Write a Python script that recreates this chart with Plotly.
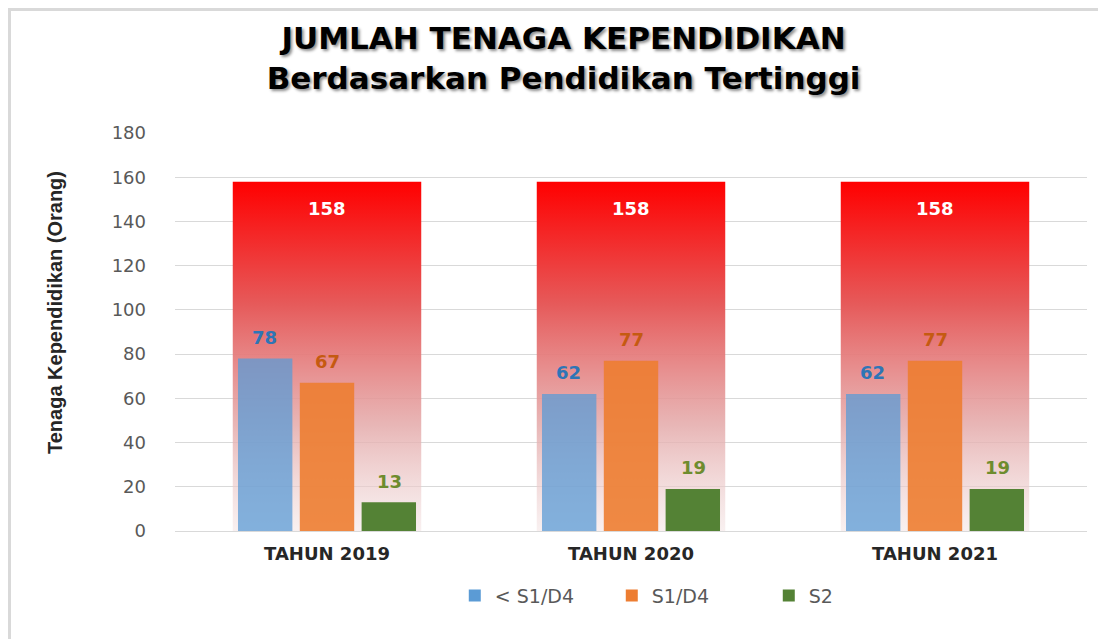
import plotly.graph_objects as go

# data
tahun = ["TAHUN 2019", "TAHUN 2020", "TAHUN 2021"]
total = [158, 158, 158]
kurang_s1 = [78, 62, 62]
s1_d4 = [67, 77, 77]
s2 = [13, 19, 19]

pos = list(range(len(tahun)))
half = 0.31  # half width of the background total bar

fig = go.Figure()

# background total bars with red vertical gradient (base axes, drawn first)
for i, t in zip(pos, total):
    fig.add_trace(go.Scatter(
        x=[i - half, i + half, i + half, i - half, i - half],
        y=[0, 0, t, t, 0],
        mode="lines", line=dict(width=0),
        fill="toself",
        fillgradient=dict(
            type="vertical", start=0, stop=t,
            colorscale=[[0, "rgba(242,225,225,0.5)"],
                        [0.3, "rgba(228,170,170,0.85)"],
                        [0.65, "rgba(230,90,90,1)"],
                        [1, "rgba(255,0,0,1)"]]),
        hoverinfo="skip", showlegend=False))

# grouped bars on an overlaying axis pair so they sit on top of the gradient
series = [
    ("< S1/D4", kurang_s1, "#5b9bd5", 0.75, "#2e75b6"),
    ("S1/D4", s1_d4, "#ed7d31", 0.9, "#c55a11"),
    ("S2", s2, "#548235", 1.0, "#6e8c2e"),
]
for name, vals, col, op, tcol in series:
    fig.add_trace(go.Bar(
        x=pos, y=vals, name=name, xaxis="x2", yaxis="y2",
        marker=dict(color=col, opacity=op, line=dict(width=0))))

annotations = []
for i, t in zip(pos, total):
    annotations.append(dict(x=i, y=t, text=str(t), showarrow=False,
                            yshift=-27, xref="x", yref="y",
                            font=dict(family="DejaVu Sans", size=18, color="white", weight="bold")))
offsets = [-0.204, 0.0, 0.204]
for off, (name, vals, col, op, tcol) in zip(offsets, series):
    for i, v in zip(pos, vals):
        annotations.append(dict(x=i + off, y=v, text=str(v), showarrow=False,
                                yshift=21, xref="x", yref="y",
                                font=dict(family="DejaVu Sans", size=18, color=tcol, weight="bold")))

W, H = 1098, 631
L, R, T, B = 167, 19, 125, 108
pw, ph = W - L - R, H - T - B

# y axis title as a rotated annotation
annotations.append(dict(text="Tenaga Kependidikan (Orang)", textangle=-90, showarrow=False,
                        xref="paper", yref="paper", x=(47 - L) / pw, y=1 - (305 - T) / ph,
                        xanchor="center", yanchor="middle",
                        font=dict(family="Liberation Sans Narrow, Arial", size=20,
                                  color="#262626", weight="bold")))

fig.update_layout(
    width=W, height=H,
    paper_bgcolor="white", plot_bgcolor="white",
    margin=dict(l=L, r=R, t=T, b=B, autoexpand=False),
    barmode="group", bargap=0.39, bargroupgap=0.12,
    title=dict(
        text="JUMLAH TENAGA KEPENDIDIKAN<br>Berdasarkan Pendidikan Tertinggi",
        x=0.506, xanchor="center", y=1 - 40.5 / H, yanchor="middle",
        font=dict(family="DejaVu Sans", size=31, color="black", weight="bold",
                  shadow="2px 2px 3px rgba(0,0,0,0.45)")),
    font=dict(family="DejaVu Sans", color="#595959"),
    legend=dict(orientation="h", x=0.565, xanchor="center", y=-0.115, yanchor="top",
                font=dict(size=19, color="#595959"), itemwidth=30,
                entrywidth=112, traceorder="normal"),
    showlegend=True,
    annotations=annotations,
)

fig.update_layout(
    xaxis=dict(range=[-0.5, 2.5], tickvals=pos, ticktext=tahun,
               tickfont=dict(family="DejaVu Sans", size=18, color="#262626", weight="bold"),
               ticklabelstandoff=6,
               showgrid=False, zeroline=False, showline=True, linecolor="#d9d9d9"),
    yaxis=dict(range=[0, 180], dtick=20, showgrid=True, gridcolor="#d9d9d9", gridwidth=1,
               zeroline=False, tickfont=dict(family="DejaVu Sans", size=18, color="#595959"),
               ticklabelstandoff=28),
    xaxis2=dict(range=[-0.5, 2.5], overlaying="x", visible=False),
    yaxis2=dict(range=[0, 180], overlaying="y", visible=False),
)

# light frame around the chart
fig.add_shape(type="rect", xref="paper", yref="paper",
              x0=(-L + 1.5) / pw, x1=2, y0=-1, y1=1 + (T - 1.5) / ph,
              line=dict(color="#d9d9d9", width=3), fillcolor="rgba(0,0,0,0)")

fig.write_html("out.html")
